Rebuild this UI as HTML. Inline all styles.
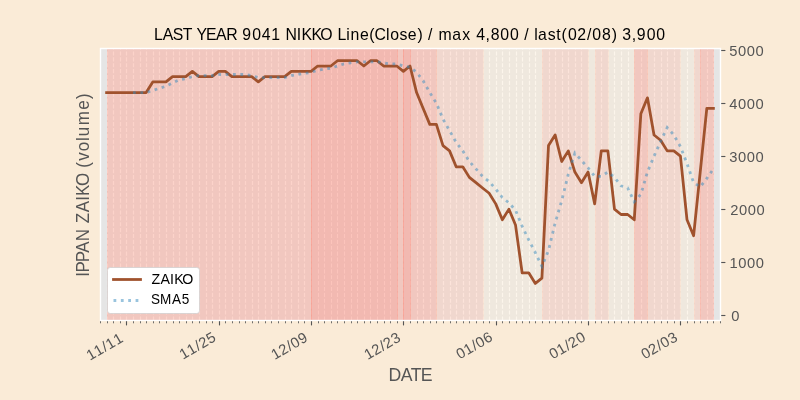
<!DOCTYPE html>
<html><head><meta charset="utf-8"><title>LAST YEAR 9041 NIKKO</title><style>
html,body{margin:0;padding:0;background:#faebd7;overflow:hidden;}
svg{display:block;}
text{font-family:"Liberation Sans",sans-serif;white-space:pre;}
svg{will-change:transform;}
</style></head><body>
<svg width="800" height="400" viewBox="0 0 800 400">
<rect x="0" y="0" width="800" height="400" fill="#faebd7"/>
<rect x="100" y="48" width="620" height="272" fill="#e5e5e5"/>
<g stroke="#ffffff" stroke-width="1.111" stroke-dasharray="4.111 1.778" fill="none">
<line x1="107.5" y1="320.5" x2="107.5" y2="48"/>
<line x1="113.5" y1="320.5" x2="113.5" y2="48"/>
<line x1="120.5" y1="320.5" x2="120.5" y2="48"/>
<line x1="126.5" y1="320.5" x2="126.5" y2="48"/>
<line x1="133.5" y1="320.5" x2="133.5" y2="48"/>
<line x1="140.5" y1="320.5" x2="140.5" y2="48"/>
<line x1="146.5" y1="320.5" x2="146.5" y2="48"/>
<line x1="153.5" y1="320.5" x2="153.5" y2="48"/>
<line x1="159.5" y1="320.5" x2="159.5" y2="48"/>
<line x1="166.5" y1="320.5" x2="166.5" y2="48"/>
<line x1="173.5" y1="320.5" x2="173.5" y2="48"/>
<line x1="179.5" y1="320.5" x2="179.5" y2="48"/>
<line x1="186.5" y1="320.5" x2="186.5" y2="48"/>
<line x1="192.5" y1="320.5" x2="192.5" y2="48"/>
<line x1="199.5" y1="320.5" x2="199.5" y2="48"/>
<line x1="206.5" y1="320.5" x2="206.5" y2="48"/>
<line x1="212.5" y1="320.5" x2="212.5" y2="48"/>
<line x1="219.5" y1="320.5" x2="219.5" y2="48"/>
<line x1="225.5" y1="320.5" x2="225.5" y2="48"/>
<line x1="232.5" y1="320.5" x2="232.5" y2="48"/>
<line x1="239.5" y1="320.5" x2="239.5" y2="48"/>
<line x1="245.5" y1="320.5" x2="245.5" y2="48"/>
<line x1="252.5" y1="320.5" x2="252.5" y2="48"/>
<line x1="258.5" y1="320.5" x2="258.5" y2="48"/>
<line x1="265.5" y1="320.5" x2="265.5" y2="48"/>
<line x1="271.5" y1="320.5" x2="271.5" y2="48"/>
<line x1="278.5" y1="320.5" x2="278.5" y2="48"/>
<line x1="285.5" y1="320.5" x2="285.5" y2="48"/>
<line x1="291.5" y1="320.5" x2="291.5" y2="48"/>
<line x1="298.5" y1="320.5" x2="298.5" y2="48"/>
<line x1="304.5" y1="320.5" x2="304.5" y2="48"/>
<line x1="311.5" y1="320.5" x2="311.5" y2="48"/>
<line x1="318.5" y1="320.5" x2="318.5" y2="48"/>
<line x1="324.5" y1="320.5" x2="324.5" y2="48"/>
<line x1="331.5" y1="320.5" x2="331.5" y2="48"/>
<line x1="337.5" y1="320.5" x2="337.5" y2="48"/>
<line x1="344.5" y1="320.5" x2="344.5" y2="48"/>
<line x1="351.5" y1="320.5" x2="351.5" y2="48"/>
<line x1="357.5" y1="320.5" x2="357.5" y2="48"/>
<line x1="364.5" y1="320.5" x2="364.5" y2="48"/>
<line x1="370.5" y1="320.5" x2="370.5" y2="48"/>
<line x1="377.5" y1="320.5" x2="377.5" y2="48"/>
<line x1="384.5" y1="320.5" x2="384.5" y2="48"/>
<line x1="390.5" y1="320.5" x2="390.5" y2="48"/>
<line x1="397.5" y1="320.5" x2="397.5" y2="48"/>
<line x1="403.5" y1="320.5" x2="403.5" y2="48"/>
<line x1="410.5" y1="320.5" x2="410.5" y2="48"/>
<line x1="417.5" y1="320.5" x2="417.5" y2="48"/>
<line x1="423.5" y1="320.5" x2="423.5" y2="48"/>
<line x1="430.5" y1="320.5" x2="430.5" y2="48"/>
<line x1="436.5" y1="320.5" x2="436.5" y2="48"/>
<line x1="443.5" y1="320.5" x2="443.5" y2="48"/>
<line x1="450.5" y1="320.5" x2="450.5" y2="48"/>
<line x1="456.5" y1="320.5" x2="456.5" y2="48"/>
<line x1="463.5" y1="320.5" x2="463.5" y2="48"/>
<line x1="469.5" y1="320.5" x2="469.5" y2="48"/>
<line x1="476.5" y1="320.5" x2="476.5" y2="48"/>
<line x1="483.5" y1="320.5" x2="483.5" y2="48"/>
<line x1="489.5" y1="320.5" x2="489.5" y2="48"/>
<line x1="496.5" y1="320.5" x2="496.5" y2="48"/>
<line x1="502.5" y1="320.5" x2="502.5" y2="48"/>
<line x1="509.5" y1="320.5" x2="509.5" y2="48"/>
<line x1="516.5" y1="320.5" x2="516.5" y2="48"/>
<line x1="522.5" y1="320.5" x2="522.5" y2="48"/>
<line x1="529.5" y1="320.5" x2="529.5" y2="48"/>
<line x1="535.5" y1="320.5" x2="535.5" y2="48"/>
<line x1="542.5" y1="320.5" x2="542.5" y2="48"/>
<line x1="549.5" y1="320.5" x2="549.5" y2="48"/>
<line x1="555.5" y1="320.5" x2="555.5" y2="48"/>
<line x1="562.5" y1="320.5" x2="562.5" y2="48"/>
<line x1="568.5" y1="320.5" x2="568.5" y2="48"/>
<line x1="575.5" y1="320.5" x2="575.5" y2="48"/>
<line x1="581.5" y1="320.5" x2="581.5" y2="48"/>
<line x1="588.5" y1="320.5" x2="588.5" y2="48"/>
<line x1="595.5" y1="320.5" x2="595.5" y2="48"/>
<line x1="601.5" y1="320.5" x2="601.5" y2="48"/>
<line x1="608.5" y1="320.5" x2="608.5" y2="48"/>
<line x1="614.5" y1="320.5" x2="614.5" y2="48"/>
<line x1="621.5" y1="320.5" x2="621.5" y2="48"/>
<line x1="628.5" y1="320.5" x2="628.5" y2="48"/>
<line x1="634.5" y1="320.5" x2="634.5" y2="48"/>
<line x1="641.5" y1="320.5" x2="641.5" y2="48"/>
<line x1="647.5" y1="320.5" x2="647.5" y2="48"/>
<line x1="654.5" y1="320.5" x2="654.5" y2="48"/>
<line x1="661.5" y1="320.5" x2="661.5" y2="48"/>
<line x1="667.5" y1="320.5" x2="667.5" y2="48"/>
<line x1="674.5" y1="320.5" x2="674.5" y2="48"/>
<line x1="680.5" y1="320.5" x2="680.5" y2="48"/>
<line x1="687.5" y1="320.5" x2="687.5" y2="48"/>
<line x1="694.5" y1="320.5" x2="694.5" y2="48"/>
<line x1="700.5" y1="320.5" x2="700.5" y2="48"/>
<line x1="707.5" y1="320.5" x2="707.5" y2="48"/>
<line x1="713.5" y1="320.5" x2="713.5" y2="48"/>
</g>
<g>
<rect x="107.50" y="48" width="204.00" height="272" fill="#faebd7" fill-opacity="0.5"/><path d="M107.50 48V320M311.50 48V320" fill="none" stroke="#faebd7" stroke-opacity="0.5" stroke-width="0.694"/>
<rect x="107.50" y="48" width="204.00" height="272" fill="#ff0000" fill-opacity="0.07"/><path d="M107.50 48V320M311.50 48V320" fill="none" stroke="#ff0000" stroke-opacity="0.07" stroke-width="0.694"/>
<rect x="107.50" y="48" width="204.00" height="272" fill="#ff0000" fill-opacity="0.07"/><path d="M107.50 48V320M311.50 48V320" fill="none" stroke="#ff0000" stroke-opacity="0.07" stroke-width="0.694"/>
<rect x="311.50" y="48" width="86.00" height="272" fill="#faebd7" fill-opacity="0.5"/><path d="M311.50 48V320M397.50 48V320" fill="none" stroke="#faebd7" stroke-opacity="0.5" stroke-width="0.694"/>
<rect x="311.50" y="48" width="86.00" height="272" fill="#ff0000" fill-opacity="0.07"/><path d="M311.50 48V320M397.50 48V320" fill="none" stroke="#ff0000" stroke-opacity="0.07" stroke-width="0.694"/>
<rect x="311.50" y="48" width="86.00" height="272" fill="#ff0000" fill-opacity="0.07"/><path d="M311.50 48V320M397.50 48V320" fill="none" stroke="#ff0000" stroke-opacity="0.07" stroke-width="0.694"/>
<rect x="311.50" y="48" width="86.00" height="272" fill="#ff0000" fill-opacity="0.07"/><path d="M311.50 48V320M397.50 48V320" fill="none" stroke="#ff0000" stroke-opacity="0.07" stroke-width="0.694"/>
<rect x="397.50" y="48" width="6.00" height="272" fill="#faebd7" fill-opacity="0.5"/><path d="M397.50 48V320M403.50 48V320" fill="none" stroke="#faebd7" stroke-opacity="0.5" stroke-width="0.694"/>
<rect x="397.50" y="48" width="6.00" height="272" fill="#ff0000" fill-opacity="0.07"/><path d="M397.50 48V320M403.50 48V320" fill="none" stroke="#ff0000" stroke-opacity="0.07" stroke-width="0.694"/>
<rect x="397.50" y="48" width="6.00" height="272" fill="#ff0000" fill-opacity="0.07"/><path d="M397.50 48V320M403.50 48V320" fill="none" stroke="#ff0000" stroke-opacity="0.07" stroke-width="0.694"/>
<rect x="403.50" y="48" width="7.00" height="272" fill="#faebd7" fill-opacity="0.5"/><path d="M403.50 48V320M410.50 48V320" fill="none" stroke="#faebd7" stroke-opacity="0.5" stroke-width="0.694"/>
<rect x="403.50" y="48" width="7.00" height="272" fill="#ff0000" fill-opacity="0.07"/><path d="M403.50 48V320M410.50 48V320" fill="none" stroke="#ff0000" stroke-opacity="0.07" stroke-width="0.694"/>
<rect x="403.50" y="48" width="7.00" height="272" fill="#ff0000" fill-opacity="0.07"/><path d="M403.50 48V320M410.50 48V320" fill="none" stroke="#ff0000" stroke-opacity="0.07" stroke-width="0.694"/>
<rect x="403.50" y="48" width="7.00" height="272" fill="#ff0000" fill-opacity="0.07"/><path d="M403.50 48V320M410.50 48V320" fill="none" stroke="#ff0000" stroke-opacity="0.07" stroke-width="0.694"/>
<rect x="410.50" y="48" width="26.00" height="272" fill="#faebd7" fill-opacity="0.5"/><path d="M410.50 48V320M436.50 48V320" fill="none" stroke="#faebd7" stroke-opacity="0.5" stroke-width="0.694"/>
<rect x="410.50" y="48" width="26.00" height="272" fill="#ff0000" fill-opacity="0.07"/><path d="M410.50 48V320M436.50 48V320" fill="none" stroke="#ff0000" stroke-opacity="0.07" stroke-width="0.694"/>
<rect x="410.50" y="48" width="26.00" height="272" fill="#ff0000" fill-opacity="0.07"/><path d="M410.50 48V320M436.50 48V320" fill="none" stroke="#ff0000" stroke-opacity="0.07" stroke-width="0.694"/>
<rect x="436.50" y="48" width="47.00" height="272" fill="#faebd7" fill-opacity="0.5"/><path d="M436.50 48V320M483.50 48V320" fill="none" stroke="#faebd7" stroke-opacity="0.5" stroke-width="0.694"/>
<rect x="436.50" y="48" width="47.00" height="272" fill="#ff0000" fill-opacity="0.07"/><path d="M436.50 48V320M483.50 48V320" fill="none" stroke="#ff0000" stroke-opacity="0.07" stroke-width="0.694"/>
<rect x="483.50" y="48" width="59.00" height="272" fill="#faebd7" fill-opacity="0.5"/><path d="M483.50 48V320M542.50 48V320" fill="none" stroke="#faebd7" stroke-opacity="0.5" stroke-width="0.694"/>
<rect x="542.50" y="48" width="46.00" height="272" fill="#faebd7" fill-opacity="0.5"/><path d="M542.50 48V320M588.50 48V320" fill="none" stroke="#faebd7" stroke-opacity="0.5" stroke-width="0.694"/>
<rect x="542.50" y="48" width="46.00" height="272" fill="#ff0000" fill-opacity="0.07"/><path d="M542.50 48V320M588.50 48V320" fill="none" stroke="#ff0000" stroke-opacity="0.07" stroke-width="0.694"/>
<rect x="588.50" y="48" width="7.00" height="272" fill="#faebd7" fill-opacity="0.5"/><path d="M588.50 48V320M595.50 48V320" fill="none" stroke="#faebd7" stroke-opacity="0.5" stroke-width="0.694"/>
<rect x="595.50" y="48" width="13.00" height="272" fill="#faebd7" fill-opacity="0.5"/><path d="M595.50 48V320M608.50 48V320" fill="none" stroke="#faebd7" stroke-opacity="0.5" stroke-width="0.694"/>
<rect x="595.50" y="48" width="13.00" height="272" fill="#ff0000" fill-opacity="0.07"/><path d="M595.50 48V320M608.50 48V320" fill="none" stroke="#ff0000" stroke-opacity="0.07" stroke-width="0.694"/>
<rect x="608.50" y="48" width="26.00" height="272" fill="#faebd7" fill-opacity="0.5"/><path d="M608.50 48V320M634.50 48V320" fill="none" stroke="#faebd7" stroke-opacity="0.5" stroke-width="0.694"/>
<rect x="634.50" y="48" width="13.00" height="272" fill="#faebd7" fill-opacity="0.5"/><path d="M634.50 48V320M647.50 48V320" fill="none" stroke="#faebd7" stroke-opacity="0.5" stroke-width="0.694"/>
<rect x="634.50" y="48" width="13.00" height="272" fill="#ff0000" fill-opacity="0.07"/><path d="M634.50 48V320M647.50 48V320" fill="none" stroke="#ff0000" stroke-opacity="0.07" stroke-width="0.694"/>
<rect x="634.50" y="48" width="13.00" height="272" fill="#ff0000" fill-opacity="0.07"/><path d="M634.50 48V320M647.50 48V320" fill="none" stroke="#ff0000" stroke-opacity="0.07" stroke-width="0.694"/>
<rect x="647.50" y="48" width="33.00" height="272" fill="#faebd7" fill-opacity="0.5"/><path d="M647.50 48V320M680.50 48V320" fill="none" stroke="#faebd7" stroke-opacity="0.5" stroke-width="0.694"/>
<rect x="647.50" y="48" width="33.00" height="272" fill="#ff0000" fill-opacity="0.07"/><path d="M647.50 48V320M680.50 48V320" fill="none" stroke="#ff0000" stroke-opacity="0.07" stroke-width="0.694"/>
<rect x="680.50" y="48" width="14.00" height="272" fill="#faebd7" fill-opacity="0.5"/><path d="M680.50 48V320M694.50 48V320" fill="none" stroke="#faebd7" stroke-opacity="0.5" stroke-width="0.694"/>
<rect x="694.50" y="48" width="6.00" height="272" fill="#faebd7" fill-opacity="0.5"/><path d="M694.50 48V320M700.50 48V320" fill="none" stroke="#faebd7" stroke-opacity="0.5" stroke-width="0.694"/>
<rect x="694.50" y="48" width="6.00" height="272" fill="#ff0000" fill-opacity="0.07"/><path d="M694.50 48V320M700.50 48V320" fill="none" stroke="#ff0000" stroke-opacity="0.07" stroke-width="0.694"/>
<rect x="700.50" y="48" width="13.00" height="272" fill="#faebd7" fill-opacity="0.5"/><path d="M700.50 48V320M713.50 48V320" fill="none" stroke="#faebd7" stroke-opacity="0.5" stroke-width="0.694"/>
<rect x="700.50" y="48" width="13.00" height="272" fill="#ff0000" fill-opacity="0.07"/><path d="M700.50 48V320M713.50 48V320" fill="none" stroke="#ff0000" stroke-opacity="0.07" stroke-width="0.694"/>
<rect x="700.50" y="48" width="13.00" height="272" fill="#ff0000" fill-opacity="0.07"/><path d="M700.50 48V320M713.50 48V320" fill="none" stroke="#ff0000" stroke-opacity="0.07" stroke-width="0.694"/>
</g>
<g stroke="#555555">
<line x1="100.5" y1="320.55" x2="100.5" y2="323.3" stroke-width="0.833"/>
<line x1="107.5" y1="320.55" x2="107.5" y2="323.3" stroke-width="0.833"/>
<line x1="113.5" y1="320.55" x2="113.5" y2="323.3" stroke-width="0.833"/>
<line x1="120.5" y1="320.55" x2="120.5" y2="323.3" stroke-width="0.833"/>
<line x1="126.5" y1="320.25" x2="126.5" y2="325.4" stroke-width="1.111"/>
<line x1="133.5" y1="320.55" x2="133.5" y2="323.3" stroke-width="0.833"/>
<line x1="140.5" y1="320.55" x2="140.5" y2="323.3" stroke-width="0.833"/>
<line x1="146.5" y1="320.55" x2="146.5" y2="323.3" stroke-width="0.833"/>
<line x1="153.5" y1="320.55" x2="153.5" y2="323.3" stroke-width="0.833"/>
<line x1="159.5" y1="320.55" x2="159.5" y2="323.3" stroke-width="0.833"/>
<line x1="166.5" y1="320.55" x2="166.5" y2="323.3" stroke-width="0.833"/>
<line x1="173.5" y1="320.55" x2="173.5" y2="323.3" stroke-width="0.833"/>
<line x1="179.5" y1="320.55" x2="179.5" y2="323.3" stroke-width="0.833"/>
<line x1="186.5" y1="320.55" x2="186.5" y2="323.3" stroke-width="0.833"/>
<line x1="192.5" y1="320.55" x2="192.5" y2="323.3" stroke-width="0.833"/>
<line x1="199.5" y1="320.55" x2="199.5" y2="323.3" stroke-width="0.833"/>
<line x1="206.5" y1="320.55" x2="206.5" y2="323.3" stroke-width="0.833"/>
<line x1="212.5" y1="320.55" x2="212.5" y2="323.3" stroke-width="0.833"/>
<line x1="219.5" y1="320.25" x2="219.5" y2="325.4" stroke-width="1.111"/>
<line x1="225.5" y1="320.55" x2="225.5" y2="323.3" stroke-width="0.833"/>
<line x1="232.5" y1="320.55" x2="232.5" y2="323.3" stroke-width="0.833"/>
<line x1="239.5" y1="320.55" x2="239.5" y2="323.3" stroke-width="0.833"/>
<line x1="245.5" y1="320.55" x2="245.5" y2="323.3" stroke-width="0.833"/>
<line x1="252.5" y1="320.55" x2="252.5" y2="323.3" stroke-width="0.833"/>
<line x1="258.5" y1="320.55" x2="258.5" y2="323.3" stroke-width="0.833"/>
<line x1="265.5" y1="320.55" x2="265.5" y2="323.3" stroke-width="0.833"/>
<line x1="271.5" y1="320.55" x2="271.5" y2="323.3" stroke-width="0.833"/>
<line x1="278.5" y1="320.55" x2="278.5" y2="323.3" stroke-width="0.833"/>
<line x1="285.5" y1="320.55" x2="285.5" y2="323.3" stroke-width="0.833"/>
<line x1="291.5" y1="320.55" x2="291.5" y2="323.3" stroke-width="0.833"/>
<line x1="298.5" y1="320.55" x2="298.5" y2="323.3" stroke-width="0.833"/>
<line x1="304.5" y1="320.55" x2="304.5" y2="323.3" stroke-width="0.833"/>
<line x1="311.5" y1="320.25" x2="311.5" y2="325.4" stroke-width="1.111"/>
<line x1="318.5" y1="320.55" x2="318.5" y2="323.3" stroke-width="0.833"/>
<line x1="324.5" y1="320.55" x2="324.5" y2="323.3" stroke-width="0.833"/>
<line x1="331.5" y1="320.55" x2="331.5" y2="323.3" stroke-width="0.833"/>
<line x1="337.5" y1="320.55" x2="337.5" y2="323.3" stroke-width="0.833"/>
<line x1="344.5" y1="320.55" x2="344.5" y2="323.3" stroke-width="0.833"/>
<line x1="351.5" y1="320.55" x2="351.5" y2="323.3" stroke-width="0.833"/>
<line x1="357.5" y1="320.55" x2="357.5" y2="323.3" stroke-width="0.833"/>
<line x1="364.5" y1="320.55" x2="364.5" y2="323.3" stroke-width="0.833"/>
<line x1="370.5" y1="320.55" x2="370.5" y2="323.3" stroke-width="0.833"/>
<line x1="377.5" y1="320.55" x2="377.5" y2="323.3" stroke-width="0.833"/>
<line x1="384.5" y1="320.55" x2="384.5" y2="323.3" stroke-width="0.833"/>
<line x1="390.5" y1="320.55" x2="390.5" y2="323.3" stroke-width="0.833"/>
<line x1="397.5" y1="320.55" x2="397.5" y2="323.3" stroke-width="0.833"/>
<line x1="403.5" y1="320.25" x2="403.5" y2="325.4" stroke-width="1.111"/>
<line x1="410.5" y1="320.55" x2="410.5" y2="323.3" stroke-width="0.833"/>
<line x1="417.5" y1="320.55" x2="417.5" y2="323.3" stroke-width="0.833"/>
<line x1="423.5" y1="320.55" x2="423.5" y2="323.3" stroke-width="0.833"/>
<line x1="430.5" y1="320.55" x2="430.5" y2="323.3" stroke-width="0.833"/>
<line x1="436.5" y1="320.55" x2="436.5" y2="323.3" stroke-width="0.833"/>
<line x1="443.5" y1="320.55" x2="443.5" y2="323.3" stroke-width="0.833"/>
<line x1="450.5" y1="320.55" x2="450.5" y2="323.3" stroke-width="0.833"/>
<line x1="456.5" y1="320.55" x2="456.5" y2="323.3" stroke-width="0.833"/>
<line x1="463.5" y1="320.55" x2="463.5" y2="323.3" stroke-width="0.833"/>
<line x1="469.5" y1="320.55" x2="469.5" y2="323.3" stroke-width="0.833"/>
<line x1="476.5" y1="320.55" x2="476.5" y2="323.3" stroke-width="0.833"/>
<line x1="483.5" y1="320.55" x2="483.5" y2="323.3" stroke-width="0.833"/>
<line x1="489.5" y1="320.55" x2="489.5" y2="323.3" stroke-width="0.833"/>
<line x1="496.5" y1="320.25" x2="496.5" y2="325.4" stroke-width="1.111"/>
<line x1="502.5" y1="320.55" x2="502.5" y2="323.3" stroke-width="0.833"/>
<line x1="509.5" y1="320.55" x2="509.5" y2="323.3" stroke-width="0.833"/>
<line x1="516.5" y1="320.55" x2="516.5" y2="323.3" stroke-width="0.833"/>
<line x1="522.5" y1="320.55" x2="522.5" y2="323.3" stroke-width="0.833"/>
<line x1="529.5" y1="320.55" x2="529.5" y2="323.3" stroke-width="0.833"/>
<line x1="535.5" y1="320.55" x2="535.5" y2="323.3" stroke-width="0.833"/>
<line x1="542.5" y1="320.55" x2="542.5" y2="323.3" stroke-width="0.833"/>
<line x1="549.5" y1="320.55" x2="549.5" y2="323.3" stroke-width="0.833"/>
<line x1="555.5" y1="320.55" x2="555.5" y2="323.3" stroke-width="0.833"/>
<line x1="562.5" y1="320.55" x2="562.5" y2="323.3" stroke-width="0.833"/>
<line x1="568.5" y1="320.55" x2="568.5" y2="323.3" stroke-width="0.833"/>
<line x1="575.5" y1="320.55" x2="575.5" y2="323.3" stroke-width="0.833"/>
<line x1="581.5" y1="320.55" x2="581.5" y2="323.3" stroke-width="0.833"/>
<line x1="588.5" y1="320.25" x2="588.5" y2="325.4" stroke-width="1.111"/>
<line x1="595.5" y1="320.55" x2="595.5" y2="323.3" stroke-width="0.833"/>
<line x1="601.5" y1="320.55" x2="601.5" y2="323.3" stroke-width="0.833"/>
<line x1="608.5" y1="320.55" x2="608.5" y2="323.3" stroke-width="0.833"/>
<line x1="614.5" y1="320.55" x2="614.5" y2="323.3" stroke-width="0.833"/>
<line x1="621.5" y1="320.55" x2="621.5" y2="323.3" stroke-width="0.833"/>
<line x1="628.5" y1="320.55" x2="628.5" y2="323.3" stroke-width="0.833"/>
<line x1="634.5" y1="320.55" x2="634.5" y2="323.3" stroke-width="0.833"/>
<line x1="641.5" y1="320.55" x2="641.5" y2="323.3" stroke-width="0.833"/>
<line x1="647.5" y1="320.55" x2="647.5" y2="323.3" stroke-width="0.833"/>
<line x1="654.5" y1="320.55" x2="654.5" y2="323.3" stroke-width="0.833"/>
<line x1="661.5" y1="320.55" x2="661.5" y2="323.3" stroke-width="0.833"/>
<line x1="667.5" y1="320.55" x2="667.5" y2="323.3" stroke-width="0.833"/>
<line x1="674.5" y1="320.55" x2="674.5" y2="323.3" stroke-width="0.833"/>
<line x1="680.5" y1="320.25" x2="680.5" y2="325.4" stroke-width="1.111"/>
<line x1="687.5" y1="320.55" x2="687.5" y2="323.3" stroke-width="0.833"/>
<line x1="694.5" y1="320.55" x2="694.5" y2="323.3" stroke-width="0.833"/>
<line x1="700.5" y1="320.55" x2="700.5" y2="323.3" stroke-width="0.833"/>
<line x1="707.5" y1="320.55" x2="707.5" y2="323.3" stroke-width="0.833"/>
<line x1="713.5" y1="320.55" x2="713.5" y2="323.3" stroke-width="0.833"/>
<line x1="720.5" y1="320.55" x2="720.5" y2="323.3" stroke-width="0.833"/>
<line x1="720.25" y1="315.5" x2="725.4" y2="315.5" stroke-width="1.111"/>
<line x1="720.25" y1="262.5" x2="725.4" y2="262.5" stroke-width="1.111"/>
<line x1="720.25" y1="209.5" x2="725.4" y2="209.5" stroke-width="1.111"/>
<line x1="720.25" y1="156.5" x2="725.4" y2="156.5" stroke-width="1.111"/>
<line x1="720.25" y1="103.5" x2="725.4" y2="103.5" stroke-width="1.111"/>
<line x1="720.25" y1="50.5" x2="725.4" y2="50.5" stroke-width="1.111"/>
</g>
<rect x="100.5" y="48.5" width="620" height="272" fill="none" stroke="#ffffff" stroke-width="1.389"/>
<polyline points="106.60,92.54 113.19,92.54 119.79,92.54 126.38,92.54 132.98,92.54 139.57,92.54 146.17,92.54 152.77,81.93 159.36,81.93 165.96,81.93 172.55,76.63 179.15,76.63 185.74,76.63 192.34,71.33 198.94,76.63 205.53,76.63 212.13,76.63 218.72,71.33 225.32,71.33 231.91,76.63 238.51,76.63 245.11,76.63 251.70,76.63 258.30,81.93 264.89,76.63 271.49,76.63 278.09,76.63 284.68,76.63 291.28,71.33 297.87,71.33 304.47,71.33 311.06,71.33 317.66,66.03 324.26,66.03 330.85,66.03 337.45,60.73 344.04,60.73 350.64,60.73 357.23,60.73 363.83,66.03 370.43,60.73 377.02,60.73 383.62,66.03 390.21,66.03 396.81,66.03 403.40,71.33 410.00,66.03 416.60,92.54 423.19,108.44 429.79,124.35 436.38,124.35 442.98,145.56 449.57,150.86 456.17,166.77 462.77,166.77 469.36,177.37 475.96,182.67 482.55,187.98 489.15,193.28 495.74,203.88 502.34,219.79 508.94,209.19 515.53,225.09 522.13,272.81 528.72,272.81 535.32,283.42 541.91,278.11 548.51,145.56 555.11,134.96 561.70,161.47 568.30,150.86 574.89,172.07 581.49,182.67 588.09,172.07 594.68,203.88 601.28,150.86 607.87,150.86 614.47,209.19 621.06,214.49 627.66,214.49 634.26,219.79 640.85,113.75 647.45,97.84 654.04,134.96 660.64,140.26 667.23,150.86 673.83,150.86 680.43,156.16 687.02,219.79 693.62,235.70 700.21,172.07 706.81,108.44 713.40,108.44" fill="none" stroke="#a0522d" stroke-width="2.778" stroke-linejoin="round" stroke-linecap="square"/>
<polyline points="132.98,92.54 139.57,92.54 146.17,92.54 152.77,90.42 159.36,88.30 165.96,86.18 172.55,82.99 179.15,79.81 185.74,78.75 192.34,76.63 198.94,75.57 205.53,75.57 212.13,75.57 218.72,74.51 225.32,74.51 231.91,74.51 238.51,74.51 245.11,74.51 251.70,75.57 258.30,77.69 264.89,77.69 271.49,77.69 278.09,77.69 284.68,77.69 291.28,75.57 297.87,74.51 304.47,73.45 311.06,72.39 317.66,70.27 324.26,69.21 330.85,68.15 337.45,66.03 344.04,63.91 350.64,62.85 357.23,61.79 363.83,61.79 370.43,61.79 377.02,61.79 383.62,62.85 390.21,63.91 396.81,63.91 403.40,66.03 410.00,67.09 416.60,72.39 423.19,80.87 429.79,92.54 436.38,103.14 442.98,119.05 449.57,130.71 456.17,142.38 462.77,150.86 469.36,161.47 475.96,168.89 482.55,176.31 489.15,181.61 495.74,189.04 502.34,197.52 508.94,202.82 515.53,210.25 522.13,226.15 528.72,239.94 535.32,252.66 541.91,266.45 548.51,250.54 555.11,222.97 561.70,200.70 568.30,174.19 574.89,152.98 581.49,160.41 588.09,167.83 594.68,176.31 601.28,176.31 607.87,172.07 614.47,177.37 621.06,185.86 627.66,187.98 634.26,201.76 640.85,194.34 647.45,172.07 654.04,156.16 660.64,141.32 667.23,127.53 673.83,134.96 680.43,146.62 687.02,163.59 693.62,182.67 700.21,186.92 706.81,178.43 713.40,168.89" fill="none" stroke="#348abd" stroke-opacity="0.5" stroke-width="2.778" stroke-dasharray="2.778 4.584"/>
<rect x="107.50" y="267.50" width="92.00" height="46.00" rx="2.78" fill="#ffffff" stroke="#cccccc" stroke-width="0.694"/>
<line x1="113.5" y1="279.5" x2="140.5" y2="279.5" stroke="#a0522d" stroke-width="2.778" stroke-linecap="square"/>
<line x1="113.5" y1="300.5" x2="140.5" y2="300.5" stroke="#348abd" stroke-opacity="0.5" stroke-width="2.778" stroke-dasharray="2.778 4.584"/>
<text transform="translate(153.93,39.89) scale(0.9768,1)" x="0.19 9.03 19.36 29.53 39.29 43.66 53.24 63.55 74.07 85.10 90.51 100.54 110.40 120.17 129.63 134.63 146.33 150.97 161.20 170.32 182.74 187.92 196.82 201.28 210.98 220.31 225.91 237.63 241.90 251.34 259.74 269.89 275.14 280.51 285.38 291.28 305.30 315.74 324.41 329.87 339.33 344.71 354.57 364.42 373.80 379.18 384.04 389.41 393.09 403.12 411.95 417.26 423.80 433.45 443.42 448.75 458.61 468.75 474.00 479.49 489.05 494.39 504.42 514.27" y="0" font-size="16.19" fill="#000000">LAST YEAR 9041 NIKKO Line(Close) / max 4,800 / last(02/08) 3,900</text>
<text transform="translate(388.36,380.81)" x="0.06 12.43 22.45 32.32" y="0" font-size="17.66" fill="#555555">DATE</text>
<text transform="translate(88.90,276.94) rotate(-90) scale(0.9608,1)" x="0.10 4.71 15.25 25.15 37.05 49.96 55.97 67.30 79.20 84.38 94.54 108.11 113.57 120.93 130.89 141.47 146.39 157.91 174.14 185.24" y="0" font-size="17.66" fill="#555555">IPPAN ZAIKO (volume)</text>
<text transform="translate(89.70,360.97) rotate(-30)" x="0.25 9.12 18.05 22.62 31.50" y="0" font-size="14.72" fill="#555555">11/11</text>
<text transform="translate(182.70,359.95) rotate(-30)" x="0.25 9.12 18.05 22.51 31.39" y="0" font-size="14.72" fill="#555555">11/25</text>
<text transform="translate(274.45,360.19) rotate(-30)" x="0.25 9.01 17.92 22.57 31.28" y="0" font-size="14.72" fill="#555555">12/09</text>
<text transform="translate(367.48,360.20) rotate(-30)" x="0.25 9.01 17.92 22.39 31.34" y="0" font-size="14.72" fill="#555555">12/23</text>
<text transform="translate(459.45,359.71) rotate(-30)" x="0.32 9.00 17.92 22.57 31.32" y="0" font-size="14.72" fill="#555555">01/06</text>
<text transform="translate(552.45,359.63) rotate(-30)" x="0.32 9.00 17.92 22.39 31.32" y="0" font-size="14.72" fill="#555555">01/20</text>
<text transform="translate(644.40,359.77) rotate(-30)" x="0.32 8.89 17.80 22.45 31.22" y="0" font-size="14.72" fill="#555555">02/03</text>
<text transform="translate(730.94,320.82)" x="0.32" y="0" font-size="14.72" fill="#555555">0</text>
<text transform="translate(729.15,267.84)" x="0.25 9.20 17.95 26.70" y="0" font-size="14.72" fill="#555555">1000</text>
<text transform="translate(730.06,214.90)" x="0.14 9.07 17.82 26.57" y="0" font-size="14.72" fill="#555555">2000</text>
<text transform="translate(728.88,161.90)" x="0.34 9.07 17.82 26.57" y="0" font-size="14.72" fill="#555555">3000</text>
<text transform="translate(728.90,108.93)" x="0.32 9.07 17.82 26.57" y="0" font-size="14.72" fill="#555555">4000</text>
<text transform="translate(728.91,55.92)" x="0.27 9.07 17.82 26.57" y="0" font-size="14.72" fill="#555555">5000</text>
<text transform="translate(150.99,283.86) scale(0.9651,1)" x="0.43 9.85 19.76 23.98 32.32" y="0" font-size="14.72" fill="#000000">ZAIKO</text>
<text transform="translate(151.00,303.86) scale(0.9213,1)" x="-0.04 9.87 22.77 33.47" y="0" font-size="14.72" fill="#000000">SMA5</text>
</svg>
</body></html>
